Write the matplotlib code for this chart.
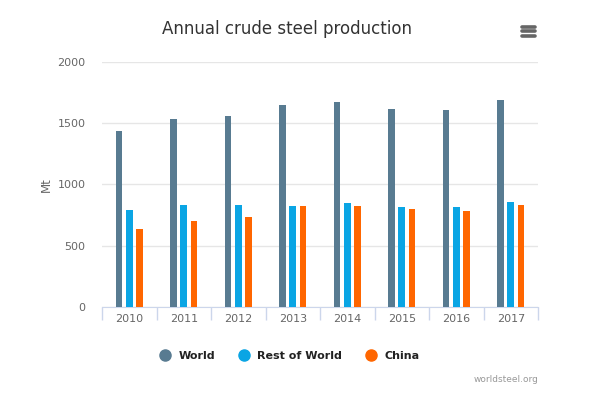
import matplotlib
matplotlib.use('Agg')
import matplotlib.pyplot as plt
from matplotlib.lines import Line2D
import numpy as np

# Crude steel production, Mt
years = ['2010', '2011', '2012', '2013', '2014', '2015', '2016', '2017']
world = [1433, 1538, 1560, 1650, 1670, 1620, 1606, 1691]
rest_of_world = [794, 836, 829, 828, 848, 816, 819, 859]
china = [639, 702, 731, 822, 822, 804, 787, 832]

series_names = ['World', 'Rest of World', 'China']
colors = ['#587b91', '#0aa5e4', '#ff6600']

fig = plt.figure(figsize=(6, 4), dpi=100)
ax = fig.add_axes([0.17, 0.2325, 0.7267, 0.6125])

x = np.arange(len(years))
w = 0.12
offs = [-0.19, 0, 0.19]
for vals, off, c, name in zip([world, rest_of_world, china], offs, colors, series_names):
    ax.bar(x + off, vals, width=w, color=c, label=name, zorder=3)

ax.set_xlim(-0.5, len(years) - 0.5)
ax.set_ylim(0, 2000)
ax.set_yticks([0, 500, 1000, 1500, 2000])
ax.yaxis.grid(True, color='#e6e6e6', linewidth=1, zorder=0)
ax.tick_params(axis='y', length=0, labelsize=8, labelcolor='#666666', pad=12)

ax.set_xticks(x)
ax.set_xticklabels(years)
ax.set_xticks(np.arange(len(years) + 1) - 0.5, minor=True)
ax.tick_params(axis='x', which='major', length=0, labelsize=8, labelcolor='#666666', pad=5)
ax.tick_params(axis='x', which='minor', length=9, color='#ccd6eb', width=1)

for s in ['top', 'right', 'left']:
    ax.spines[s].set_visible(False)
ax.spines['bottom'].set_color('#ccd6eb')

ax.set_ylabel('Mt', fontsize=8.5, color='#666666', labelpad=3)

fig.text(0.478, 0.928, 'Annual crude steel production', ha='center', va='center',
         fontsize=12, color='#333333')

# menu icon
for yy in [0.911, 0.922, 0.933]:
    fig.add_artist(Line2D([0.87, 0.891], [yy, yy], color='#666666', linewidth=2.6,
                          solid_capstyle='round'))

handles = [Line2D([], [], marker='o', linestyle='', markersize=8, color=c) for c in colors]
fig.legend(handles, series_names, loc='center', bbox_to_anchor=(0.478, 0.11), ncol=3,
           frameon=False, prop={'size': 8, 'weight': 'bold'}, handletextpad=0.2,
           columnspacing=1.6, labelcolor='#222222')

fig.text(0.897, 0.05, 'worldsteel.org', ha='right', va='center', fontsize=6.5, color='#999999')

fig.savefig('out.png', dpi=100)
